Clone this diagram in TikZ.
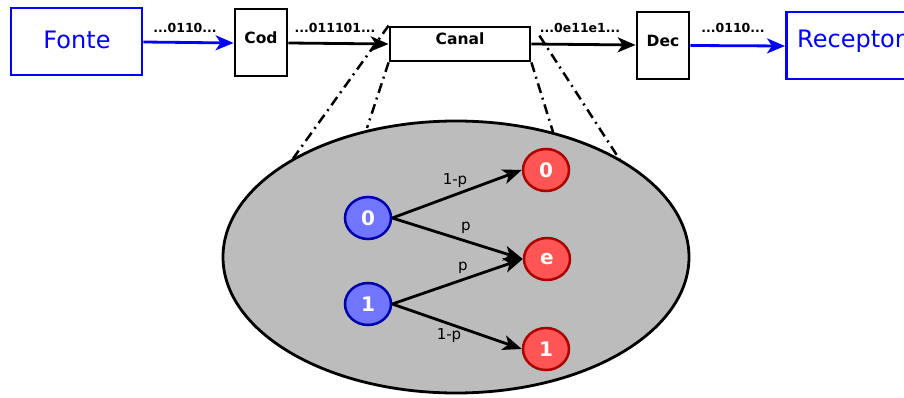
\documentclass[tikz,border=0pt]{standalone}
\usepackage{fontspec}
\setmainfont{DejaVu Sans}
\usetikzlibrary{shapes.geometric,arrows.meta}
\definecolor{srcblue}{RGB}{0,0,255}
\definecolor{inblue}{RGB}{112,118,255}
\definecolor{inblueline}{RGB}{0,0,170}
\definecolor{outred}{RGB}{255,85,85}
\definecolor{outredline}{RGB}{170,0,0}
\definecolor{chgray}{RGB}{188,188,188}
\tikzset{
  endbox/.style={draw=srcblue, line width=2.8pt, inner sep=0pt},
  endtext/.style={text=srcblue, font=\fontsize{24}{28}\selectfont, inner sep=0pt},
  blockbox/.style={draw, line width=2.8pt, inner sep=0pt},
  blocktext/.style={font=\bfseries\fontsize{15.5}{18}\selectfont, inner sep=0pt},
  flow/.style={-{Stealth[length=18pt,width=15pt,inset=5pt]}, line width=2.8pt},
  bluflow/.style={flow, draw=srcblue},
  bits/.style={font=\bfseries\fontsize{12.5}{14}\selectfont},
  zoomline/.style={line width=2.5pt, dash pattern=on 10pt off 5pt on 2pt off 5pt},
  insym/.style={ellipse, draw=inblueline, fill=inblue, line width=2.5pt, minimum width=46pt, minimum height=42pt, text=white, font=\bfseries\fontsize{20}{24}\selectfont, inner sep=0pt},
  outsym/.style={ellipse, draw=outredline, fill=outred, line width=2.5pt, minimum width=46pt, minimum height=42pt, text=white, font=\bfseries\fontsize{20}{24}\selectfont, inner sep=0pt},
  trans/.style={-{Stealth[length=19pt,width=15pt,inset=5pt]}, line width=2.8pt},
  prob/.style={font=\fontsize{15}{18}\selectfont}
}
\begin{document}
\begin{tikzpicture}[x=1pt,y=-1pt]
\useasboundingbox (0,0) rectangle (904,398);

% channel detail: the erasure channel inside the grey ellipse
\node[ellipse, draw, line width=2.8pt, fill=chgray, minimum width=466pt, minimum height=272pt] (detail) at (456,257) {};

% top chain of blocks
\node[endbox, minimum width=131pt, minimum height=67pt] (fonte) at (76.5,41.5) {};
\node[endtext] (fontetxt) at (77,39.5) {Fonte};
\node[blockbox, minimum width=52pt, minimum height=67pt] (cod) at (261,42.5) {};
\node[blocktext] (codtxt) at (261,38) {Cod};
\node[blockbox, minimum width=140pt, minimum height=34pt] (canal) at (460,44) {};
\node[blocktext] (canaltxt) at (460,39) {Canal};
\node[blockbox, minimum width=52pt, minimum height=67pt] (dec) at (663,45.5) {};
\node[blocktext] (dectxt) at (663,40.5) {Dec};
\node[endbox, minimum width=140pt, minimum height=67pt, anchor=west] (recep) at (785,45.5) {};
\node[endtext, anchor=west] (receptxt) at (797,41.5) {Receptor};

\draw[bluflow] (fonte.east |- 0,42) -- (cod.west |- 0,43);
\draw[flow] (cod.east |- 0,43) -- (canal.west |- 0,44);
\draw[flow] (canal.east |- 0,44) -- (dec.west |- 0,45);
\draw[bluflow] (dec.east |- 0,45.5) -- (recep.west |- 0,46);

\node[bits] (b1) at (185,28) {...0110...};
\node[bits] (b2) at (335,28) {...011101...};
\node[bits] (b3) at (580,28) {...0e11e1...};
\node[bits] (b4) at (733,28) {...0110...};

% dash-dot lines linking the channel box to its detail
\coordinate (lo) at (292,160);
\coordinate (li) at (367,128);
\coordinate (ri) at (553,132);
\coordinate (ro) at (620,160);
\draw[zoomline] (canal.north west) -- (lo);
\draw[zoomline] (canal.south west) -- (li);
\draw[zoomline] (canal.south east) -- (ri);
\draw[zoomline] ([xshift=8pt,yshift=-10pt]canal.north east) -- (ro);

% symbols
\node[insym] (i0) at (368,218) {0};
\node[insym] (i1) at (368,304) {1};
\node[outsym] (o0) at (546,170) {0};
\node[outsym] (oe) at (547,259) {e};
\node[outsym] (o1) at (546,349) {1};

\draw[trans] (i0.east) -- (o0.west);
\draw[trans] (i0.east) -- (oe.west);
\draw[trans] (i1.east) -- (oe.west);
\draw[trans] (i1.east) -- (o1.west);

\node[prob] (p1) at (455,181) {1-p};
\node[prob] (p2) at (466,228) {p};
\node[prob] (p3) at (463,268) {p};
\node[prob] (p4) at (449,336) {1-p};
\end{tikzpicture}
\end{document}
